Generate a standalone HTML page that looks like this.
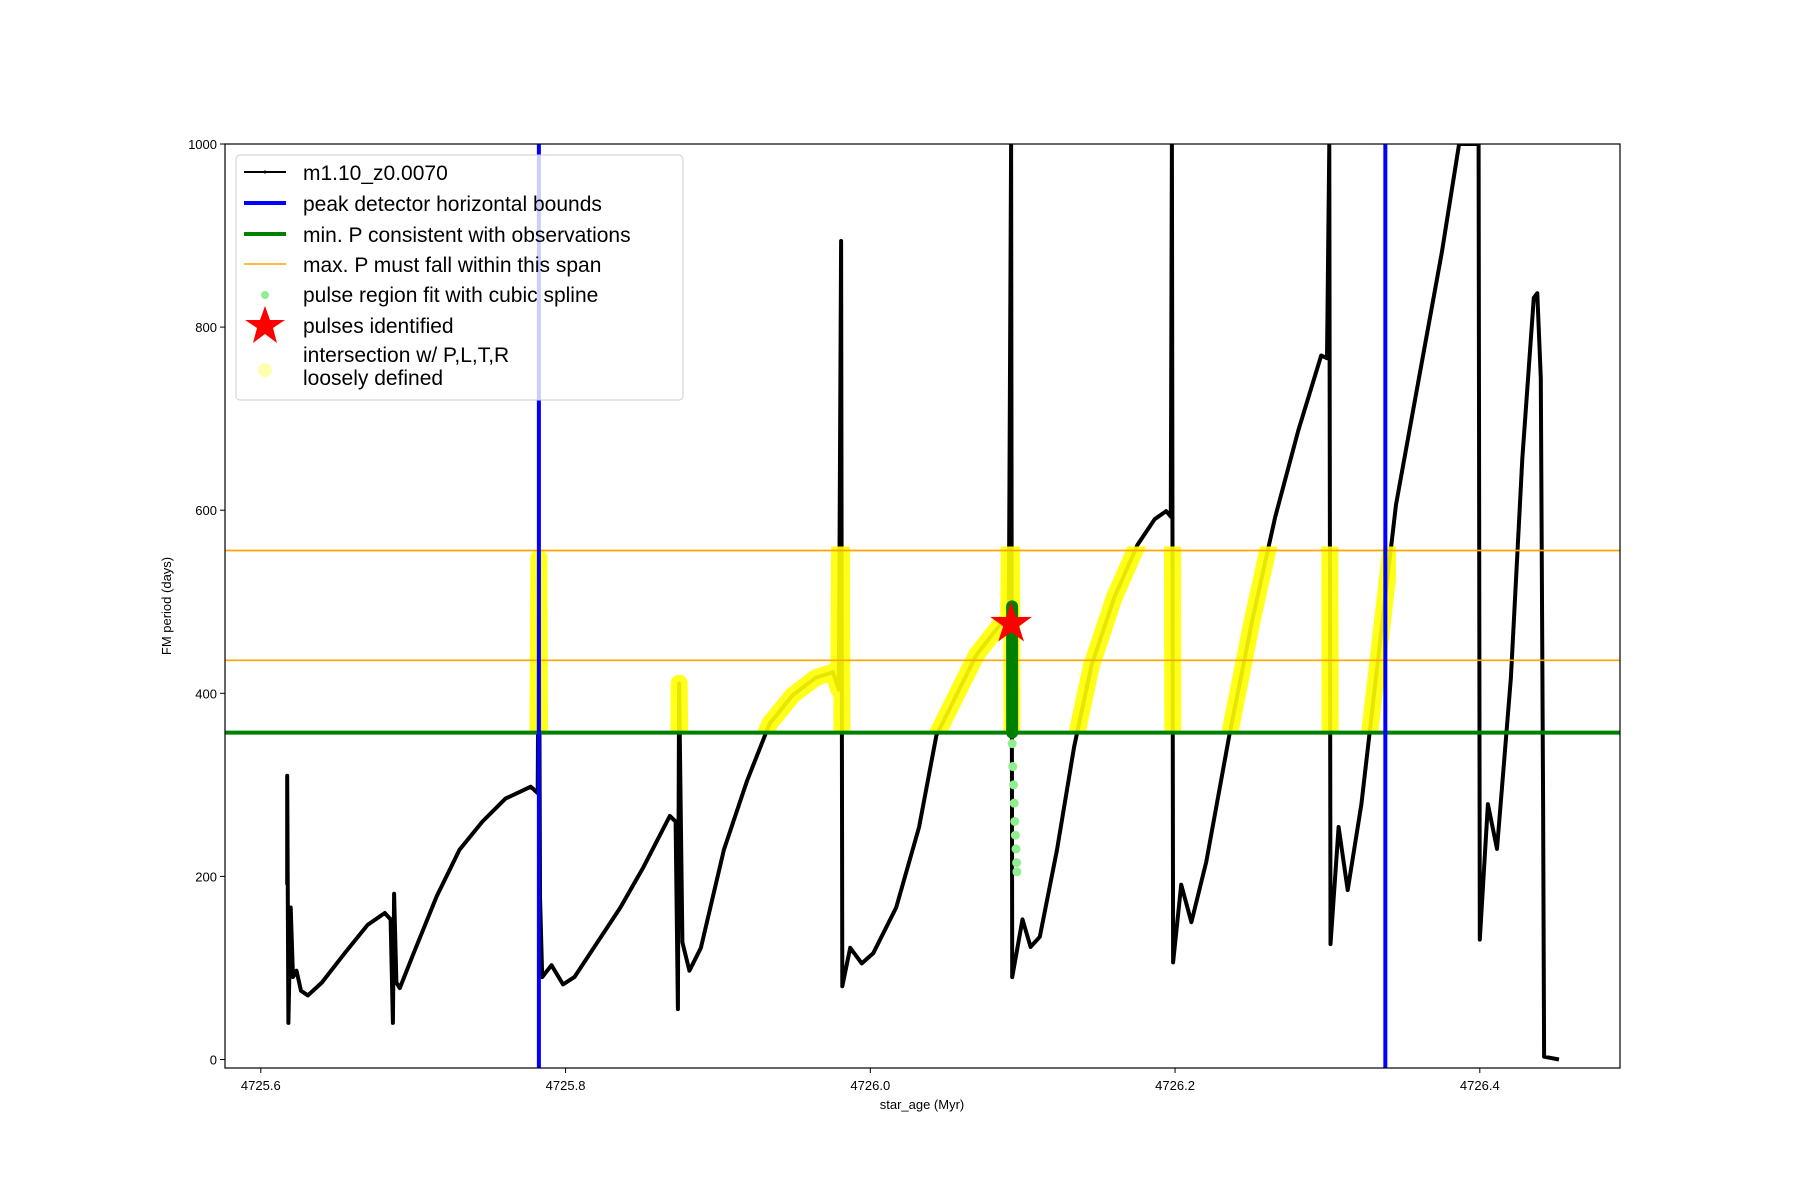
<!DOCTYPE html>
<html><head><meta charset="utf-8"><style>
body{margin:0;background:#fff;}
svg{display:block;font-family:"Liberation Sans","DejaVu Sans",sans-serif;}
</style></head><body>
<svg id="chart" width="1800" height="1200" viewBox="0 0 1800 1200" xmlns="http://www.w3.org/2000/svg">
<rect width="1800" height="1200" fill="#fff"/>
<defs><clipPath id="plotclip"><rect x="225" y="144" width="1395" height="924"/></clipPath></defs>
<g id="plot" clip-path="url(#plotclip)"></g>
<g id="axes"></g>
</svg>
<script>
const ages=[4725.6173,4725.6173,4725.6181,4725.6196,4725.6211,4725.6234,4725.6264,4725.6309,4725.6400,4725.6550,4725.6701,4725.6814,4725.6852,4725.6867,4725.6875,4725.6890,4725.6912,4725.7003,4725.7154,4725.7304,4725.7455,4725.7606,4725.7772,4725.7817,4725.7825,4725.7832,4725.7847,4725.7908,4725.7983,4725.8058,4725.8209,4725.8360,4725.8511,4725.8684,4725.8722,4725.8737,4725.8745,4725.8767,4725.8813,4725.8888,4725.9039,4725.9190,4725.9340,4725.9491,4725.9642,4725.9755,4725.9793,4725.9808,4725.9816,4725.9868,4725.9944,4726.0019,4726.0170,4726.0320,4726.0434,4726.0547,4726.0697,4726.0848,4726.0909,4726.0924,4726.0931,4726.0999,4726.1052,4726.1112,4726.1225,4726.1338,4726.1451,4726.1602,4726.1753,4726.1866,4726.1942,4726.1972,4726.1979,4726.1987,4726.2040,4726.2107,4726.2205,4726.2356,4726.2507,4726.2658,4726.2809,4726.2959,4726.2997,4726.3012,4726.3020,4726.3073,4726.3133,4726.3223,4726.3336,4726.3450,4726.3600,4726.3751,4726.3864,4726.3992,4726.4000,4726.4053,4726.4113,4726.4204,4726.4279,4726.4354,4726.4377,4726.4400,4726.4415,4726.4422,4726.4520];
const periods=[191,310,40,166,90,97,75,70,84,116,147,160,153,40,181,84,78,116,178,229,260,285,298,291,548,178,90,103,82,90,128,166,210,266,260,55,411,128,97,122,229,304,367,398,417,423,404,894,80,122,105,116,166,254,354,392,442,474,480,1000,90,153,123,134,229,342,430,505,562,590,599,593,1000,106,191,150,216,354,480,593,687,769,766,1000,126,254,185,279,442,606,744,882,1000,1000,131,279,230,417,656,832,837,744,279,3,0];
const splineAges=[4726.0931,4726.0935,4726.0940,4726.0944,4726.0948,4726.0952,4726.0956,4726.0960,4726.0962];
const splinePeriods=[345,320,300,280,260,245,230,215,205];
const blueBounds=[4725.7825,4726.338];
const minP=[357];
const maxPSpan=[436,556];
const pulseAge=[4726.0924];
const pulsePeriod=[476];
const greenPulse=[357,495];
const xTicks=[4725.6,4725.8,4726.0,4726.2,4726.4];
const xTickLabels=["4725.6","4725.8","4726.0","4726.2","4726.4"];
const yTicks=[0,200,400,600,800,1000];
const yTickLabels=["0","200","400","600","800","1000"];

const L=225,R=1620,T=144,B=1068,X0=4725.5765,X1=4726.492,Y0=-9.3,Y1=1000;
const xs=v=>L+(v-X0)/(X1-X0)*(R-L);
const ys=v=>B-(v-Y0)/(Y1-Y0)*(B-T);
const NS="http://www.w3.org/2000/svg";
const plot=document.getElementById('plot'),axes=document.getElementById('axes');
function mk(tag,attrs,parent){const e=document.createElementNS(NS,tag);for(const k in attrs)e.setAttribute(k,attrs[k]);parent.appendChild(e);return e;}
const pts=ages.map((a,i)=>xs(a).toFixed(1)+','+ys(periods[i]).toFixed(1)).join(' ');

const line=mk('polyline',{points:pts,fill:'none',stroke:'#000','stroke-width':4,'stroke-linejoin':'round'},plot);



// yellow intersection highlight (drawn over the curve)
const yClip=mk('clipPath',{id:'yclip'},document.querySelector('defs'));
mk('rect',{x:225,y:ys(maxPSpan[1])-4,width:xs(4726.345)-225,height:ys(minP[0])-ys(maxPSpan[1])+4},yClip);
const yel=mk('polyline',{points:pts,fill:'none',stroke:'#ffff00','stroke-width':17,'stroke-linejoin':'round','stroke-linecap':'round',opacity:0.9,'clip-path':'url(#yclip)'},plot);



const gl=mk('line',{x1:L,x2:R,y1:ys(minP[0]),y2:ys(minP[0]),stroke:'#008000','stroke-width':4},plot);


maxPSpan.forEach(v=>{const o=mk('line',{x1:L,x2:R,y1:ys(v),y2:ys(v),stroke:'#ffa500','stroke-width':1.7},plot);

});
blueBounds.forEach(v=>{const b=mk('line',{x1:xs(v),x2:xs(v),y1:T,y2:B,stroke:'#0000ff','stroke-width':4},plot);

});

splineAges.forEach((a,i)=>{const c=mk('circle',{cx:xs(a),cy:ys(splinePeriods[i]),r:4.5,fill:'#90ee90'},plot);

});
const gp=mk('line',{x1:xs(pulseAge[0])+1,x2:xs(pulseAge[0])+1,y1:ys(greenPulse[0]),y2:ys(greenPulse[1]),stroke:'#008000','stroke-width':12,'stroke-linecap':'round'},plot);



function star(cx,cy,r){let p=[];for(let i=0;i<10;i++){const a=-Math.PI/2+i*Math.PI/5,rr=i%2?r*0.38:r;p.push((cx+rr*Math.cos(a)).toFixed(1)+','+(cy+rr*Math.sin(a)).toFixed(1));}return p.join(' ');}
const st=mk('polygon',{points:star(xs(pulseAge[0]),ys(pulsePeriod[0]),22),fill:'#ff0000'},plot);



mk('rect',{x:L,y:T,width:R-L,height:B-T,fill:'none',stroke:'#000','stroke-width':1.2},axes);
xTicks.forEach((v,i)=>{const x=xs(v);mk('line',{x1:x,x2:x,y1:B,y2:B+5,stroke:'#000'},axes);
const t=mk('text',{x:x,y:B+22,'text-anchor':'middle','font-size':13},axes);t.textContent=xTickLabels[i];

});
yTicks.forEach((v,i)=>{const y=ys(v);mk('line',{x1:L-5,x2:L,y1:y,y2:y,stroke:'#000'},axes);
const t=mk('text',{x:L-8,y:y+5,'text-anchor':'end','font-size':13},axes);t.textContent=yTickLabels[i];

});
</script>
<svg style="position:absolute;left:0;top:0" width="1800" height="1200" xmlns="http://www.w3.org/2000/svg" font-family="Liberation Sans, DejaVu Sans, sans-serif">
<text x="922" y="1109" text-anchor="middle" font-size="13">star_age (Myr)</text>
<text transform="translate(171,606) rotate(-90)" text-anchor="middle" font-size="13">FM period (days)</text>
<g font-size="21">
<rect x="236" y="155" width="447" height="245" rx="4" fill="#fff" fill-opacity="0.8" stroke="#ccc"/>
<line x1="244" y1="172" x2="286" y2="172" stroke="#000" stroke-width="2"/><circle cx="265" cy="172" r="1.5"/>
<text x="303" y="180">m1.10_z0.0070</text>
<line x1="244" y1="203" x2="286" y2="203" stroke="#0000ff" stroke-width="4"/>
<text x="303" y="211">peak detector horizontal bounds</text>
<line x1="244" y1="234" x2="286" y2="234" stroke="#008000" stroke-width="4"/>
<text x="303" y="242">min. P consistent with observations</text>
<line x1="244" y1="264" x2="286" y2="264" stroke="#ffa500" stroke-width="1.5"/>
<text x="303" y="272">max. P must fall within this span</text>
<circle cx="265" cy="295" r="4" fill="#90ee90"/>
<text x="303" y="302">pulse region fit with cubic spline</text>
<polygon points="265,306 270,320 285,320 273,328 277,343 265,334 253,343 257,328 245,320 260,320" fill="#ff0000"/>
<text x="303" y="333">pulses identified</text>
<circle cx="265" cy="370" r="7" fill="#ffffb0"/>
<text x="303" y="362">intersection w/ P,L,T,R</text>
<text x="303" y="385">loosely defined</text>
</g>
</svg>
</body></html>
